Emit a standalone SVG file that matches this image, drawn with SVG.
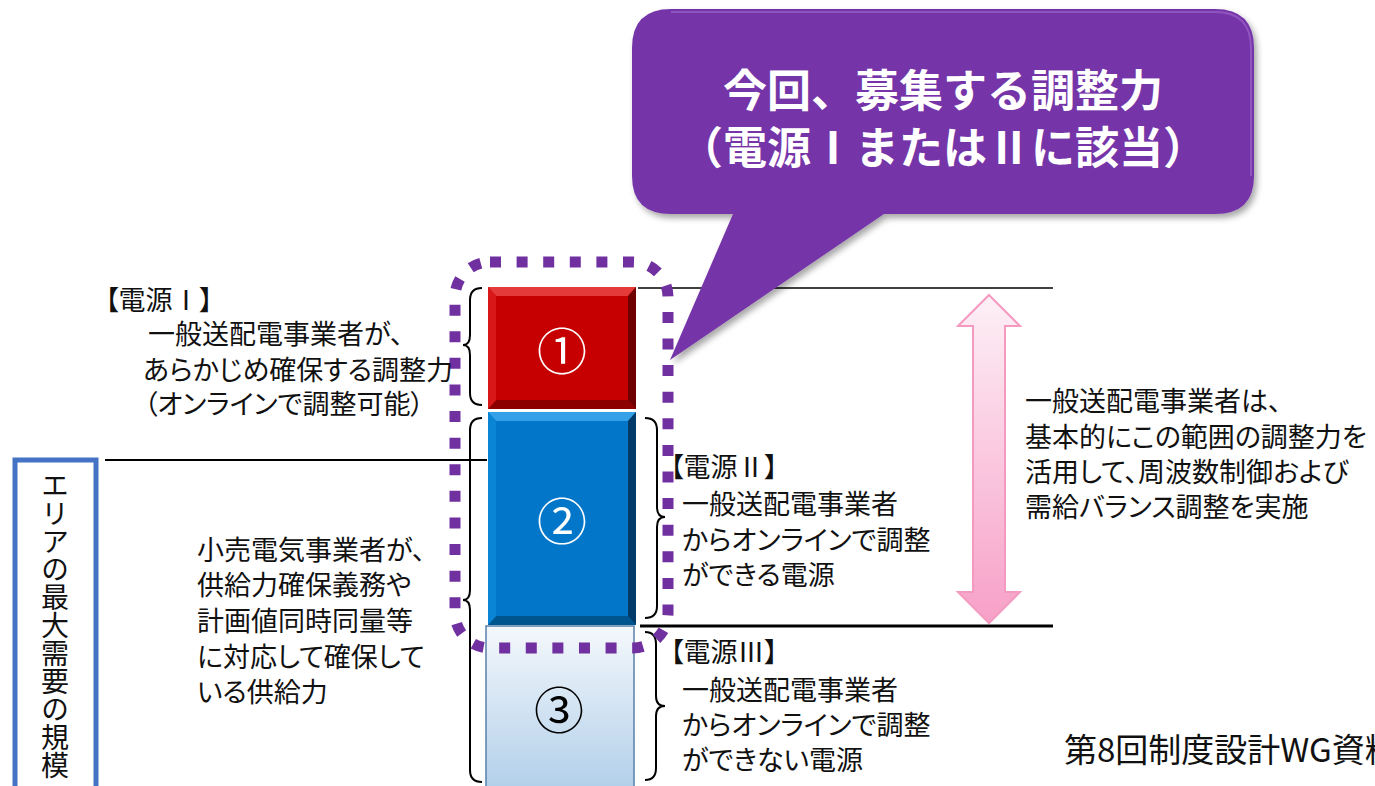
<svg xmlns="http://www.w3.org/2000/svg" width="1375" height="786" viewBox="0 0 1375 786">
<style>
.t{font-family:"Noto Sans CJK JP","Noto Sans",sans-serif;font-size:27px;fill:#111;font-feature-settings:"palt" 1;dominant-baseline:central}
.num{font-family:"Noto Sans CJK JP","Noto Sans",sans-serif;font-size:50px;text-anchor:middle;dominant-baseline:central}
.co{font-family:"Noto Sans CJK JP","Noto Sans",sans-serif;font-size:44px;font-weight:bold;fill:#fff;text-anchor:middle;dominant-baseline:central}
.ln{stroke:#000;fill:none}
.br{stroke:#000;stroke-width:2;fill:none}
</style>
<defs>
<linearGradient id="g3" x1="0" y1="0" x2="0" y2="1"><stop offset="0" stop-color="#f4f8fc"/><stop offset="1" stop-color="#b1cfe9"/></linearGradient>
<linearGradient id="gp" x1="0" y1="0" x2="0" y2="1"><stop offset="0" stop-color="#fdf0f6"/><stop offset="1" stop-color="#f7a0c8"/></linearGradient>
<filter id="sh" x="-10%" y="-10%" width="125%" height="130%"><feDropShadow dx="3" dy="4" stdDeviation="3" flood-color="#000" flood-opacity="0.35"/></filter>
</defs>

<g id="bar1">
<rect x="488" y="287" width="148" height="122" fill="#c60000"/>
<polygon points="488,287 636,287 628,296 496,296" fill="#e43a3a"/>
<polygon points="488,409 636,409 628,400 496,400" fill="#8c0000"/>
<polygon points="636,287 636,409 628,400 628,296" fill="#6e0000"/>
<polygon points="488,287 496,296 496,400 488,409" fill="#d81818"/>
<text class="num" x="562" y="348" fill="#fff">①</text>
</g>
<g id="bar2">
<rect x="488" y="412" width="148" height="213" fill="#0277c9"/>
<polygon points="488,412 636,412 628,421 496,421" fill="#33a0e8"/>
<polygon points="488,625 636,625 628,616 496,616" fill="#01558f"/>
<polygon points="636,412 636,625 628,616 628,421" fill="#013a66"/>
<polygon points="488,412 496,421 496,616 488,625" fill="#0a84d4"/>
<text class="num" x="562" y="518" fill="#fff">②</text>
</g>
<g id="bar3">
<rect x="486" y="626" width="148" height="165" fill="url(#g3)" stroke="#5a80aa" stroke-width="1.5"/>
<text class="num" x="559" y="707" fill="#000">③</text>
</g>

<g id="connectors">
<line class="ln" x1="638" y1="288" x2="1053" y2="288" stroke-width="1.5"/>
<line class="ln" x1="105" y1="460" x2="487" y2="460" stroke-width="2"/>
<line class="ln" x1="640" y1="626" x2="1053" y2="626" stroke-width="3"/>
<path class="br" d="M482,288 Q470,288 470,300 L470,335 Q470,345 463,345 Q470,345 470,355 L470,393 Q470,405 482,405"/>
<path class="br" d="M482,418 Q470,418 470,430 L470,590 Q470,600 463,600 Q470,600 470,610 L470,770 Q470,782 482,782"/>
<path class="br" d="M645,418 Q657,418 657,430 L657,507 Q657,517 665,517 Q657,517 657,527 L657,606 Q657,618 645,618"/>
<path class="br" d="M645,632 Q656,632 656,644 L656,696 Q656,706 665,706 Q656,706 656,716 L656,768 Q656,780 645,780"/>
<polygon id="arrow" points="989,295 1020,326 1005,326 1005,592 1020,592 989,623 958,592 973,592 973,326 958,326" fill="url(#gp)" stroke="#f49ac1" stroke-width="2"/>
</g>

<g id="dotted">
<rect x="455" y="262" width="213" height="386" rx="35" fill="none" stroke="#7030a0" stroke-width="11" stroke-dasharray="11 15.6"/>
</g>

<g id="callout">
<path d="M671,9 H1215 Q1254,9 1254,48 V176 Q1254,214 1215,214 H884 L670,360 L733,214 H671 Q632,214 632,176 V48 Q632,9 671,9 Z" fill="#7535a8" filter="url(#sh)"/>
<path d="M671,12 H1215 Q1251,12 1251,48 V176" fill="none" stroke="#9b62c9" stroke-width="2" opacity="0.7"/>
<text class="co" x="943" y="88">今回、募集する調整力</text>
<text class="co" x="943" y="145">（電源ⅠまたはⅡに該当）</text>
</g>

<g id="label1">
<text class="t" x="105" y="298">【電源Ⅰ】</text>
<text class="t" x="148" y="332">一般送配電事業者が、</text>
<text class="t" x="143" y="368">あらかじめ確保する調整力</text>
<text class="t" x="144" y="402">（オンラインで調整可能）</text>
</g>

<g id="label-retail">
<text class="t" x="197" y="548">小売電気事業者が、</text>
<text class="t" x="197" y="583">供給力確保義務や</text>
<text class="t" x="197" y="619">計画値同時同量等</text>
<text class="t" x="197" y="655">に対応して確保して</text>
<text class="t" x="197" y="690">いる供給力</text>
</g>

<g id="label2">
<text class="t" x="670" y="465">【電源Ⅱ】</text>
<text class="t" x="682" y="502">一般送配電事業者</text>
<text class="t" x="682" y="538">からオンラインで調整</text>
<text class="t" x="682" y="573">ができる電源</text>
</g>

<g id="label3">
<text class="t" x="670" y="650">【電源Ⅲ】</text>
<text class="t" x="682" y="688">一般送配電事業者</text>
<text class="t" x="682" y="723">からオンラインで調整</text>
<text class="t" x="682" y="758">ができない電源</text>
</g>

<g id="label-range">
<text class="t" x="1025" y="399">一般送配電事業者は、</text>
<text class="t" x="1025" y="435">基本的にこの範囲の調整力を</text>
<text class="t" x="1025" y="470">活用して、周波数制御および</text>
<text class="t" x="1025" y="505">需給バランス調整を実施</text>
</g>

<g id="area-box">
<rect x="15" y="460" width="81" height="340" fill="none" stroke="#4472c4" stroke-width="5"/>
<text x="55" y="471" style="font-family:'Noto Sans CJK JP',sans-serif;font-size:28px;fill:#111;writing-mode:vertical-rl">エリアの最大需要の規模</text>
</g>

<text class="t" x="1064" y="748" style="font-size:33px;font-feature-settings:normal">第8回制度設計WG資料</text>
</svg>
